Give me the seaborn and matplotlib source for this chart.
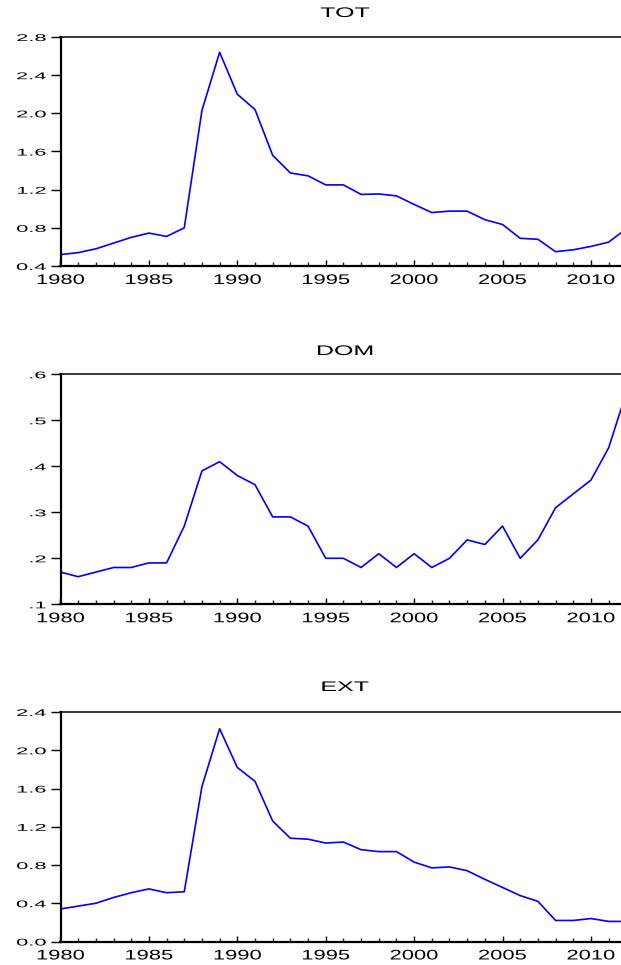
import matplotlib
matplotlib.use("Agg")
import matplotlib.pyplot as plt
import seaborn as sns
import pandas as pd
from matplotlib.ticker import MultipleLocator, FixedLocator, FixedFormatter
from matplotlib.patheffects import AbstractPathEffect
from matplotlib.transforms import Affine2D

years = list(range(1980, 2013))
tot = [0.52, 0.54, 0.58, 0.64, 0.70, 0.745, 0.71, 0.80, 2.03, 2.64, 2.20, 2.04,
       1.56, 1.375, 1.345, 1.25, 1.25, 1.15, 1.155, 1.135, 1.045, 0.96, 0.975,
       0.975, 0.885, 0.835, 0.69, 0.68, 0.55, 0.57, 0.605, 0.65, 0.79]
dom = [0.17, 0.16, 0.17, 0.18, 0.18, 0.19, 0.19, 0.27, 0.39, 0.41, 0.38, 0.36,
       0.29, 0.29, 0.27, 0.20, 0.20, 0.18, 0.21, 0.18, 0.21, 0.18, 0.20, 0.24,
       0.23, 0.27, 0.20, 0.24, 0.31, 0.34, 0.37, 0.44, 0.56]
ext = [0.34, 0.37, 0.40, 0.46, 0.51, 0.55, 0.51, 0.52, 1.62, 2.225, 1.82, 1.675,
       1.26, 1.08, 1.07, 1.03, 1.04, 0.96, 0.94, 0.94, 0.83, 0.77, 0.78, 0.74,
       0.65, 0.565, 0.48, 0.42, 0.22, 0.22, 0.24, 0.21, 0.21]

titles = ["TOT", "DOM", "EXT"]
tot_ticks = [0.4, 0.8, 1.2, 1.6, 2.0, 2.4, 2.8]
tot_labels = ["0.4", "0.8", "1.2", "1.6", "2.0", "2.4", "2.8"]
dom_ticks = [0.1, 0.2, 0.3, 0.4, 0.5, 0.6]
dom_labels = [".1", ".2", ".3", ".4", ".5", ".6"]
ext_ticks = [0.0, 0.4, 0.8, 1.2, 1.6, 2.0, 2.4]
ext_labels = ["0.0", "0.4", "0.8", "1.2", "1.6", "2.0", "2.4"]
x_ticks = [1980, 1985, 1990, 1995, 2000, 2005, 2010]


class HStretch(AbstractPathEffect):
    """Draw text glyphs widened horizontally (the reference text is wide)."""

    def __init__(self, sx, anchor="center"):
        super().__init__()
        self.sx = sx
        self.anchor = anchor

    def draw_path(self, renderer, gc, tpath, affine, rgbFace=None):
        ext_ = tpath.get_extents()
        if self.anchor == "center":
            cx = (ext_.x0 + ext_.x1) / 2
        elif self.anchor == "right":
            cx = ext_.x1
        else:
            cx = ext_.x0
        t = Affine2D().translate(-cx, 0).scale(self.sx, 1).translate(cx, 0) + affine
        renderer.draw_path(gc, tpath, t, rgbFace)


sns.set_style("white")
plt.rcParams['font.family'] = ['Liberation Sans', 'DejaVu Sans']

W, H = 621, 965
fig = plt.figure(figsize=(W / 100, H / 100), dpi=100)

panels = [
    (tot, tot_ticks, tot_labels, 37, 266, 17),
    (dom, dom_ticks, dom_labels, 374.3, 604.3, 355),
    (ext, ext_ticks, ext_labels, 712, 941.5, 691),
]

left_px = 60.5
extra = 0.2
for (vals, yt, yl, top_px, bot_px, title_px), title in zip(panels, titles):
    ax = fig.add_axes([left_px / W, 1 - bot_px / H, 1 - left_px / W + extra,
                       (bot_px - top_px) / H])
    df = pd.DataFrame({"year": years, "value": vals})
    sns.lineplot(data=df, x="year", y="value", ax=ax, color="#0000ff", linewidth=1.2)
    # the axis runs past the right edge of the picture
    span = 2011.7 - 1980
    ax.set_xlim(1980, 1980 + span * (1 - left_px / W + extra) / (1 - left_px / W))
    ax.set_ylim(yt[0], yt[-1])
    ax.set_xlabel("")
    ax.set_ylabel("")
    ax.xaxis.set_major_locator(FixedLocator(x_ticks))
    ax.xaxis.set_minor_locator(MultipleLocator(1))
    ax.set_xticklabels([str(x) for x in x_ticks])
    ax.yaxis.set_major_locator(FixedLocator(yt))
    ax.yaxis.set_major_formatter(FixedFormatter(yl))
    ax.tick_params(axis="x", which="major", direction="in", length=4.5, width=1.0,
                   pad=5, labelsize=10, colors="black", bottom=True)
    ax.tick_params(axis="x", which="minor", direction="in", length=2.8, width=1.0,
                   bottom=True)
    ax.tick_params(axis="y", which="major", direction="out", length=7, width=1.0,
                   pad=3.5, labelsize=7, colors="black", left=True)
    for lbl in ax.get_xticklabels():
        lbl.set_path_effects([HStretch(1.58, "center")])
    for lbl in ax.get_yticklabels():
        lbl.set_path_effects([HStretch(2.25, "right")])
    for s in ["left", "bottom"]:
        ax.spines[s].set_linewidth(1.6)
        ax.spines[s].set_color("black")
    ax.spines["top"].set_linewidth(1.1)
    ax.spines["top"].set_color("black")
    ax.spines["right"].set_visible(False)
    t = fig.text(345 / W, 1 - title_px / H, title, ha="center", va="baseline",
                 fontsize=10, color="black")
    t.set_path_effects([HStretch(1.8, "center")])

fig.savefig("out.png", dpi=100)
